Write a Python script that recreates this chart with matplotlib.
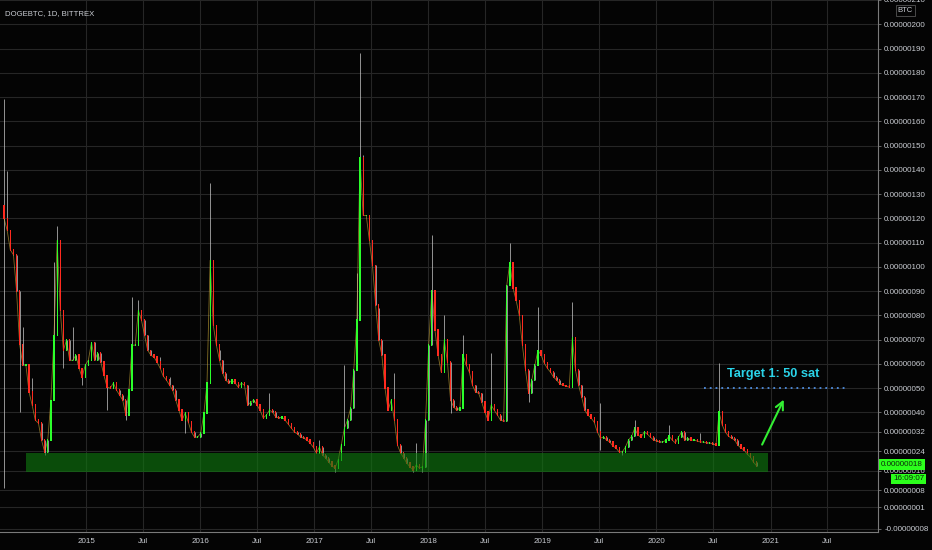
import numpy as np
import pandas as pd
import matplotlib
matplotlib.use("Agg")
import matplotlib.pyplot as plt
import matplotlib.dates as mdates
from matplotlib.patches import Rectangle

plt.rcParams['font.family'] = ['Liberation Sans', 'DejaVu Sans']

# DOGEBTC 10-day candles, price in satoshi (1e-8 BTC)
start_date = "2014-04-13"
first_open = 125
close = [
    120, 115, 107, 105, 90, 68, 59.5, 59.5, 48.4, 43,
    36.8, 35.6, 28.6, 23.7, 28.6, 45, 71.8, 110.9, 82.1, 65.6,
    69.8, 61.5, 61.5, 63.6, 58.2, 54.5, 59.5, 61.5, 68.9, 61.5,
    64.4, 60.7, 55.3, 50.4, 50.0, 52.1, 49.2, 47.1, 45.1, 38.9,
    49.2, 67.7, 67.7, 82.1, 78.0, 71.8, 65.6, 63.6, 62.8, 60.7,
    58.2, 54.9, 53.3, 51.2, 49.2, 45.1, 40.9, 36.8, 39.7, 36.0,
    31.9, 29.8, 29.8, 31.5, 39.7, 52.1, 102.7, 75.9, 67.7, 61.5,
    56.2, 53.3, 52.1, 53.3, 52.1, 50.4, 52.1, 51.2, 43.0, 44.2,
    45.1, 43.0, 40.9, 37.7, 38.9, 40.9, 40.1, 38.1, 37.7, 38.1,
    36.8, 35.2, 33.5, 31.9, 31.1, 29.8, 29.4, 28.6, 27.4, 25.7,
    23.3, 25.7, 22.4, 21.2, 19.5, 17.9, 17.1, 20.4, 26.5, 33.5,
    36.8, 41.8, 57.4, 78.0, 145, 121.2, 121.2, 110.9, 100.6, 84.2,
    69.8, 63.6, 50.0, 40.9, 45.1, 36.8, 26.5, 23.3, 21.2, 19.1,
    17.5, 16.3, 18.3, 17.1, 17.5, 36.8, 67.7, 90.3, 73.9, 63.6,
    56.6, 69.8, 60.7, 45.1, 42.2, 40.9, 41.8, 63.6, 59.5, 56.6,
    51.2, 48.4, 47.9, 44.2, 40.1, 36.8, 43.0, 40.9, 38.9, 36.8,
    36.4, 92.4, 101.9, 91.2, 86.2, 80.0, 67.7, 57.4, 47.9, 53.3,
    59.5, 65.6, 63.6, 60.3, 58.2, 56.6, 54.5, 53.3, 51.7, 51.2,
    50.8, 50.4, 70.6, 57.4, 51.2, 46.3, 40.9, 38.9, 37.7, 36.0,
    31.9, 29.4, 29.8, 28.6, 27.8, 26.1, 25.3, 23.7, 23.7, 25.7,
    28.6, 30.2, 33.5, 30.7, 29.8, 31.9, 31.1, 29.8, 28.6, 28.2,
    27.8, 27.8, 28.6, 30.2, 28.6, 27.4, 29.8, 31.9, 28.6, 29.4,
    28.6, 28.6, 28.2, 27.8, 27.8, 27.4, 27.4, 27.0, 26.5, 40.1,
    34.8, 31.9, 30.2, 29.4, 28.6, 26.5, 25.3, 24.5, 22.8, 21.6,
    19.5, 18,
]
# wick extremes that stick out of the bodies
wick_high = {0: 169, 1: 139.7, 6: 75, 9: 54, 16: 101.9, 17: 116.7, 22: 75,
             41: 87.4, 43: 86.2, 50: 62.8, 53: 54.5, 66: 134.4, 69: 65.6,
             85: 47.9, 101: 28.6, 109: 59.5, 113: 97.3, 114: 188, 115: 146,
             120: 83, 125: 56.2, 132: 27.4, 137: 113, 141: 80, 147: 71.8,
             156: 64.4, 162: 110, 171: 83.3, 182: 85.4, 191: 43.8, 202: 36.8,
             213: 34.8, 223: 31.5, 229: 60.3}
wick_low = {0: 9, 5: 40, 13: 22.4, 19: 58.2, 25: 51.2, 33: 40.9, 39: 36.8,
            58: 31.5, 106: 15.4, 131: 15.4, 134: 15.4, 143: 39.7, 168: 44.2,
            191: 24.5, 198: 22.4}

support_zone = (15.4, 23.3)
support_dates = ("2014-06-22", "2020-12-24")
target_price = 50
target_dates = ("2020-06-01", "2021-08-31")
target_label = "Target 1: 50 sat"
arrow_from = ("2020-12-01", 25.7)
arrow_to = ("2021-02-16", 46.3)
last_price_label = "0.00000018"
countdown_label = "16:09:07"

y_ticks = [210, 200, 190, 180, 170, 160, 150, 140, 130, 120, 110, 100, 90,
           80, 70, 60, 50, 40, 32, 24, 16, 8, 1, -8]
x_tick_dates = ["2015-01-01", "2015-07-01", "2016-01-01", "2016-07-01",
                "2017-01-01", "2017-07-01", "2018-01-01", "2018-07-01",
                "2019-01-01", "2019-07-01", "2020-01-01", "2020-07-01",
                "2021-01-01", "2021-07-01"]
x_tick_labels = ["2015", "Jul", "2016", "Jul", "2017", "Jul", "2018", "Jul",
                 "2019", "Jul", "2020", "Jul", "2021", "Jul"]

bg = "#040404"
grid_c = "#262626"
txt_c = "#c9ccd2"

fig = plt.figure(figsize=(9.32, 5.5), dpi=100, facecolor=bg)
ax = fig.add_axes([0, 1 - 532 / 550, 878 / 932, 532 / 550], facecolor=bg)

dates = mdates.date2num(pd.date_range(start_date, periods=len(close), freq="10D"))
close = np.array(close, dtype=float)
opens = np.concatenate([[first_open], close[:-1]])
highs = np.maximum(opens, close)
lows = np.minimum(opens, close)
for i, v in wick_high.items():
    highs[i] = v
for i, v in wick_low.items():
    lows[i] = v

up = close >= opens
colors = np.where(up, "#2bff2b", "#ff2a1f")
ax.vlines(dates, lows, highs, colors="#c8c8c8", linewidth=0.6, alpha=0.85, zorder=2)
ax.bar(dates, np.abs(close - opens) + 0.6, bottom=np.minimum(opens, close) - 0.3,
       width=4, color=colors, linewidth=0, zorder=3)
# thin connector so the series reads as one jagged trace like a daily chart
ax.plot(dates, close, color="#d8b23a", linewidth=0.6, alpha=0.6, zorder=2.5)

# support zone
x0, x1 = mdates.datestr2num(support_dates[0]), mdates.datestr2num(support_dates[1])
ax.add_patch(Rectangle((x0, support_zone[0]), x1 - x0, support_zone[1] - support_zone[0],
                       facecolor="#0f7a0f", alpha=0.62, edgecolor="none", zorder=4))

# target line and label
t0, t1 = mdates.datestr2num(target_dates[0]), mdates.datestr2num(target_dates[1])
ax.plot([t0, t1], [target_price, target_price], linestyle=(0, (1, 2.2)),
        color="#4f8ee0", linewidth=1.3, zorder=5)
ax.text(mdates.datestr2num("2021-01-09"), 56, target_label, color="#2ad3e8",
        fontsize=9.2, fontweight="bold", ha="center", va="center", zorder=6)
ax.annotate("", xy=(mdates.datestr2num(arrow_to[0]), arrow_to[1]),
            xytext=(mdates.datestr2num(arrow_from[0]), arrow_from[1]),
            arrowprops=dict(arrowstyle="->", color="#33ee33", lw=1.5,
                            mutation_scale=14), zorder=6)

ax.set_xlim(mdates.datestr2num("2014-03-31"), mdates.datestr2num("2021-12-11"))
ax.set_ylim(-9.3, 210)

ax.set_xticks(mdates.datestr2num(x_tick_dates))
ax.set_xticklabels(x_tick_labels)
ax.set_yticks(y_ticks)
ax.set_yticklabels([f"{v * 1e-8:.8f}" for v in y_ticks])
ax.yaxis.tick_right()
ax.tick_params(axis="x", length=0, pad=4, labelsize=5.8, colors=txt_c)
ax.tick_params(axis="y", length=2.5, width=0.6, pad=2, labelsize=5.8,
               colors=txt_c, color="#777777")
ax.grid(True, color=grid_c, linewidth=0.8)
ax.set_axisbelow(True)
for s in ["top", "left"]:
    ax.spines[s].set_visible(False)
for s in ["right", "bottom"]:
    ax.spines[s].set_color("#7a7a7a")
    ax.spines[s].set_linewidth(0.8)

ax.text(0.006, 0.982, "DOGEBTC, 1D, BITTREX", transform=ax.transAxes,
        color=txt_c, fontsize=5.6, ha="left", va="top")

yt = ax.get_yaxis_transform()
ax.text(1.003, 18.4, last_price_label, transform=yt, color="#0b2a0b", fontsize=5.8,
        ha="left", va="center", clip_on=False, zorder=10,
        bbox=dict(boxstyle="square,pad=0.25", facecolor="#2cff1c", edgecolor="none"))
ax.text(1.017, 12.6, countdown_label, transform=yt, color="#0b2a0b", fontsize=5.8,
        ha="left", va="center", clip_on=False, zorder=10,
        bbox=dict(boxstyle="square,pad=0.2", facecolor="#2cff1c", edgecolor="none"))
ax.text(1.031, 205.6, "BTC", transform=yt, color=txt_c, fontsize=5.5,
        ha="center", va="center", clip_on=False, zorder=10,
        bbox=dict(boxstyle="square,pad=0.25", facecolor=bg, edgecolor="#555555", lw=0.6))

fig.savefig("out.png", dpi=100, facecolor=bg)
